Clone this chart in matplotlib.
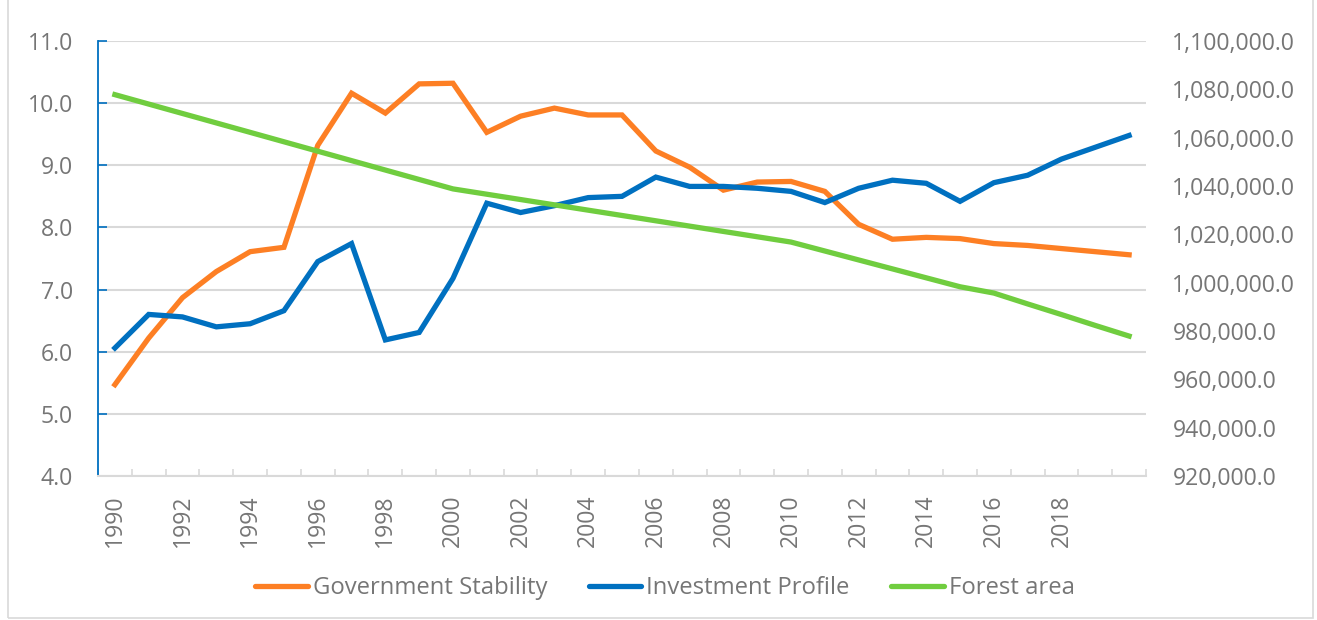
import matplotlib
matplotlib.use("Agg")
import matplotlib.pyplot as plt
from matplotlib.ticker import FuncFormatter, FixedLocator
from matplotlib.patches import Rectangle
from matplotlib.lines import Line2D

years = list(range(1990, 2021))
gov_stability = [5.47, 6.22, 6.87, 7.29, 7.61, 7.68, 9.32, 10.16, 9.84, 10.31, 10.32,
                 9.53, 9.79, 9.92, 9.81, 9.81, 9.23, 8.97, 8.60, 8.73, 8.74,
                 8.58, 8.05, 7.81, 7.84, 7.82, 7.74, 7.71, 7.66, 7.61, 7.56]
invest_profile = [6.06, 6.60, 6.56, 6.40, 6.45, 6.66, 7.45, 7.74, 6.19, 6.31, 7.18,
                  8.39, 8.24, 8.35, 8.48, 8.50, 8.81, 8.66, 8.66, 8.63, 8.58,
                  8.40, 8.63, 8.76, 8.71, 8.42, 8.72, 8.84, 9.10, 9.29, 9.48]
forest_area = [1077800, 1073900, 1070000, 1066100, 1062200, 1058300, 1054400, 1050500,
               1046600, 1042700, 1038800, 1036600, 1034400, 1032200, 1030000, 1027800,
               1025600, 1023400, 1021200, 1019000, 1016800, 1013100, 1009400, 1005700,
               1002000, 998300, 995700, 991200, 986800, 982300, 977900]
tick_years = list(range(1990, 2019, 2))
series_names = ["Government Stability", "Investment Profile", "Forest area"]

C_ORANGE = "#fd7f24"
C_BLUE = "#0070c0"
C_GREEN = "#70cd3f"
C_TEXT = "#767676"
C_GRID = "#d9d9d9"

plt.rcParams['font.family'] = ['Open Sans', 'DejaVu Sans']

W, H = 1317, 620
fig = plt.figure(figsize=(W / 100, H / 100), dpi=100)
fig.patch.set_facecolor("white")

L, R, T, B = 98, 1146, 41, 476
ax = fig.add_axes([L / W, 1 - B / H, (R - L) / W, (B - T) / H])
ax2 = ax.twinx()

x = list(range(len(years)))
lw = 3.8
ax.plot(x, gov_stability, color=C_ORANGE, lw=lw, solid_joinstyle="miter", zorder=3)
ax.plot(x, invest_profile, color=C_BLUE, lw=lw, solid_joinstyle="miter", zorder=3)
ax2.plot(x, forest_area, color=C_GREEN, lw=lw, solid_joinstyle="miter", zorder=3)

ax.set_xlim(-0.5, len(years) - 0.5)
ax.set_ylim(4, 11)
ax2.set_ylim(920000, 1100000)

ax.set_yticks([4, 5, 6, 7, 8, 9, 10, 11])
ax.yaxis.set_major_formatter(FuncFormatter(lambda v, p: f"{v:.1f}"))
ax.grid(axis="y", color=C_GRID, lw=1.5, zorder=0)
ax.set_axisbelow(True)

ax2.set_yticks(list(range(920000, 1100001, 20000)))
ax2.yaxis.set_major_formatter(FuncFormatter(lambda v, p: f"{v:,.1f}"))

tick_idx = [years.index(y) for y in tick_years]
ax.xaxis.set_major_locator(FixedLocator(tick_idx))
ax.set_xticklabels([str(y) for y in tick_years], rotation=90)
ax.xaxis.set_minor_locator(FixedLocator([i - 0.5 for i in range(len(years) + 1)]))

FS = 16.6
ax.tick_params(axis="x", which="major", length=0, pad=13, labelsize=FS, labelcolor=C_TEXT)
ax.tick_params(axis="x", which="minor", direction="in", length=5, width=1.2, color=C_GRID)
ax.tick_params(axis="y", direction="in", length=6.5, width=1.2, color=C_BLUE,
               pad=18, labelsize=FS, labelcolor=C_TEXT)
ax2.tick_params(axis="y", length=0, pad=19, labelsize=FS, labelcolor=C_TEXT)

for s in ["top", "right"]:
    ax.spines[s].set_visible(False)
    ax2.spines[s].set_visible(False)
ax2.spines["left"].set_visible(False)
ax2.spines["bottom"].set_visible(False)
ax.spines["left"].set_color(C_BLUE)
ax.spines["left"].set_linewidth(1.3)
ax.spines["bottom"].set_color(C_GRID)
ax.spines["bottom"].set_linewidth(1.5)

handles = [Line2D([], [], color=C_ORANGE, lw=lw, solid_capstyle="round"),
           Line2D([], [], color=C_BLUE, lw=lw, solid_capstyle="round"),
           Line2D([], [], color=C_GREEN, lw=lw, solid_capstyle="round")]
leg = fig.legend(handles, series_names, loc="center", bbox_to_anchor=(665 / W, 1 - 588 / H),
                 ncol=3, frameon=False, fontsize=17.2, handlelength=2.2, handletextpad=0.2,
                 columnspacing=1.75, labelcolor=C_TEXT)

fig.add_artist(Rectangle((8 / W, 2 / H), (1313 - 8) / W, 1.0, transform=fig.transFigure,
                         fill=False, edgecolor=C_GRID, lw=1.2))

fig.savefig("out.png", dpi=100, facecolor="white")
